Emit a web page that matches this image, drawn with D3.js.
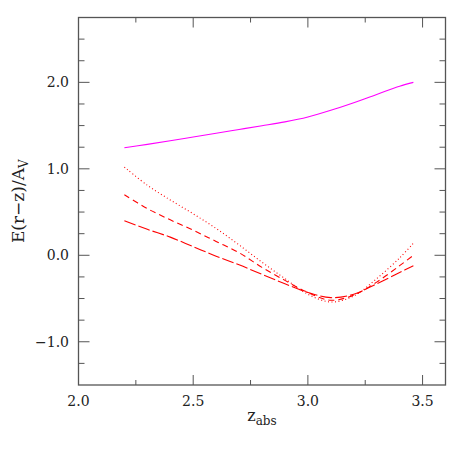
<html>
<head>
<meta charset="utf-8">
<script src="https://d3js.org/d3.v7.min.js"></script>
<style>
  body { margin: 0; background: #fff; }
</style>
</head>
<body>
<svg width="463" height="463"></svg>
<script>
// values
var zabs = [2.2, 2.3, 2.4, 2.5, 2.6, 2.7, 2.8, 2.9, 3.0, 3.1, 3.2, 3.3, 3.4, 3.46];
var magenta = [1.243, 1.283, 1.324, 1.368, 1.412, 1.455, 1.498, 1.543, 1.60, 1.677, 1.765, 1.86, 1.955, 2.0];
var dotted = [1.02, 0.81, 0.64, 0.48, 0.31, 0.12, -0.08, -0.27, -0.45, -0.54, -0.47, -0.27, -0.03, 0.14];
var dashed = [0.70, 0.54, 0.41, 0.29, 0.16, 0.03, -0.14, -0.29, -0.43, -0.52, -0.46, -0.31, -0.12, 0.0];
var longdash = [0.40, 0.30, 0.21, 0.10, -0.01, -0.11, -0.22, -0.33, -0.43, -0.49, -0.45, -0.33, -0.20, -0.12];

var xMajor = [2.0, 2.5, 3.0, 3.5];
var xMinor = [2.25, 2.75, 3.25];
var yMajor = [-1.0, 0.0, 1.0, 2.0];
var yMinor = [-1.25, -0.75, -0.5, -0.25, 0.25, 0.5, 0.75, 1.25, 1.5, 1.75, 2.25, 2.5];

var pLeft = 78.5, pRight = 445.5, pTop = 17.5, pBottom = 385;

var x = d3.scaleLinear().domain([2.0, 3.6]).range([pLeft, pRight]);
var y = d3.scaleLinear().domain([-1.5, 2.75]).range([pBottom, pTop]);

var svg = d3.select("svg")
    .style("font-family", "'DejaVu Serif', 'Liberation Serif', serif");
var axisColor = "#555";
var textColor = "#222";

// frame
svg.append("rect")
    .attr("x", pLeft).attr("y", pTop)
    .attr("width", pRight - pLeft).attr("height", pBottom - pTop)
    .attr("fill", "none").attr("stroke", axisColor).attr("stroke-width", 1.3);

// ticks, inward on all four sides
function xticks(vals, len) {
    vals.forEach(function(v) {
        svg.append("line").attr("x1", x(v)).attr("x2", x(v)).attr("y1", pBottom).attr("y2", pBottom - len)
            .attr("stroke", axisColor);
        svg.append("line").attr("x1", x(v)).attr("x2", x(v)).attr("y1", pTop).attr("y2", pTop + len)
            .attr("stroke", axisColor);
    });
}
function yticks(vals, len) {
    vals.forEach(function(v) {
        svg.append("line").attr("y1", y(v)).attr("y2", y(v)).attr("x1", pLeft).attr("x2", pLeft + len)
            .attr("stroke", axisColor);
        svg.append("line").attr("y1", y(v)).attr("y2", y(v)).attr("x1", pRight).attr("x2", pRight - len)
            .attr("stroke", axisColor);
    });
}
xticks(xMajor, 10);
xticks(xMinor, 5);
yticks(yMajor, 11);
yticks(yMinor, 6);

var fmt = d3.format(".1f");
svg.selectAll(".xl").data(xMajor).enter().append("text")
    .attr("x", function(d) { return x(d); })
    .attr("y", 406)
    .attr("text-anchor", "middle")
    .attr("fill", textColor)
    .style("font-size", "14px")
    .text(fmt);

svg.selectAll(".yl").data(yMajor).enter().append("text")
    .attr("x", 69)
    .attr("y", function(d) { return y(d) + 5; })
    .attr("text-anchor", "end")
    .attr("fill", textColor)
    .style("font-size", "14px")
    .text(fmt);

// axis titles
var xt = svg.append("text").attr("x", 262).attr("y", 421).attr("text-anchor", "middle")
    .attr("fill", textColor).style("font-size", "16px");
xt.append("tspan").text("z");
xt.append("tspan").attr("dy", 4).style("font-size", "12px").text("abs");

var yt = svg.append("text")
    .attr("transform", "translate(24," + ((pTop + pBottom) / 2) + ") rotate(-90)")
    .attr("text-anchor", "middle").attr("fill", textColor).style("font-size", "17px");
yt.append("tspan").text("E(r\u2212z)/A");
yt.append("tspan").attr("dy", 4).style("font-size", "12px").text("V");

// curves
var line = d3.line()
    .x(function(d) { return x(d[0]); })
    .y(function(d) { return y(d[1]); })
    .curve(d3.curveCatmullRom);

function draw(vals, color, dash) {
    svg.append("path")
        .datum(d3.zip(zabs, vals))
        .attr("d", line)
        .attr("fill", "none")
        .attr("stroke", color)
        .attr("stroke-width", 1.1)
        .attr("stroke-dasharray", dash);
}
draw(magenta, "#ff00ff", null);
draw(dotted, "#ff0000", "1,2.5");
draw(dashed, "#ff0000", "6,4");
draw(longdash, "#ff0000", "12,3");
</script>
</body>
</html>
